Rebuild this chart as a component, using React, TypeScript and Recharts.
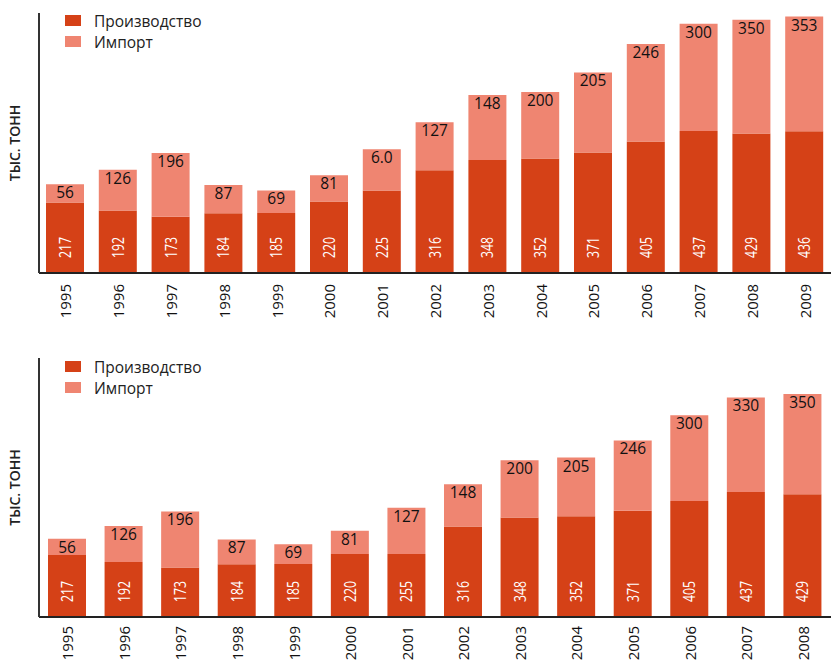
import React from "react"
import { BarChart, Bar, XAxis, YAxis, LabelList } from "recharts"

const PROD_COLOR = "#D54117"
const IMPORT_COLOR = "#EF8571"
const FONT = "'Open Sans', 'Noto Sans', sans-serif"

// top chart: 1995–2009
const yearsTop = ["1995", "1996", "1997", "1998", "1999", "2000", "2001", "2002", "2003", "2004", "2005", "2006", "2007", "2008", "2009"]
const prodTop = [217, 192, 173, 184, 185, 220, 254, 316, 348, 352, 371, 405, 437, 429, 436]
const importTop = [56, 126, 196, 87, 69, 81, 127, 148, 200, 205, 246, 300, 330, 350, 353]
const prodLabelsTop = ["217", "192", "173", "184", "185", "220", "225", "316", "348", "352", "371", "405", "437", "429", "436"]
const importLabelsTop = ["56", "126", "196", "87", "69", "81", "6.0", "127", "148", "200", "205", "246", "300", "350", "353"]

// bottom chart: 1995–2008
const yearsBottom = ["1995", "1996", "1997", "1998", "1999", "2000", "2001", "2002", "2003", "2004", "2005", "2006", "2007", "2008"]
const prodBottom = [217, 192, 173, 184, 185, 220, 220, 316, 348, 352, 371, 405, 437, 429]
const importBottom = [56, 126, 196, 87, 69, 81, 162, 148, 200, 205, 246, 300, 330, 350]
const prodLabelsBottom = ["217", "192", "173", "184", "185", "220", "255", "316", "348", "352", "371", "405", "437", "429"]
const importLabelsBottom = ["56", "126", "196", "87", "69", "81", "127", "148", "200", "205", "246", "300", "330", "350"]

const seriesNames = ["Производство", "Импорт"]

const buildRows = (years: string[], prod: number[], imp: number[], prodLabels: string[], impLabels: string[]) =>
  years.map((year, i) => ({
    year,
    prod: prod[i],
    imp: imp[i],
    prodLabel: prodLabels[i],
    impLabel: impLabels[i],
  }))

// white condensed numbers inside the dark segment, reading bottom-to-top
const ProdLabel = (props: any) => {
  const { x, y, width, height, value } = props
  const cx = x + width / 2
  const by = y + height - 15
  return (
    <text
      x={cx}
      y={by}
      transform={`rotate(-90 ${cx} ${by})`}
      fill="#fff"
      fontSize={16}
      fontFamily={FONT}
      textAnchor="start"
      dominantBaseline="central"
      textLength={String(value).length * 7}
      lengthAdjust="spacingAndGlyphs"
    >
      {value}
    </text>
  )
}

const ImportLabel = (props: any) => {
  const { x, y, width, value } = props
  return (
    <text x={x + width / 2} y={y + 14} fill="#111" fontSize={15.5} fontFamily={FONT} textAnchor="middle">
      {value}
    </text>
  )
}

const YearTick = ({ x, y, payload, dy }: any) => (
  <text
    x={x}
    y={y + dy}
    transform={`rotate(-90 ${x} ${y + dy})`}
    fill="#111"
    fontSize={15}
    fontFamily={FONT}
    textAnchor="end"
    dominantBaseline="central"
  >
    {payload.value}
  </text>
)

const AxisTitle = (props: any) => {
  const { viewBox } = props
  const cx = 14
  const cy = viewBox.y + viewBox.height / 2
  return (
    <text
      x={cx}
      y={cy}
      transform={`rotate(-90 ${cx} ${cy})`}
      fill="#222"
      fontSize={14}
      fontWeight={600}
      fontFamily={FONT}
      textAnchor="middle"
      dominantBaseline="central"
    >
      ТЫС. ТОНН
    </text>
  )
}

const LegendBox = ({ top }: { top: number }) => (
  <div style={{ position: "absolute", left: 65, top, fontFamily: FONT, fontSize: 15.5, color: "#222" }}>
    {seriesNames.map((name, i) => (
      <div key={name} style={{ display: "flex", alignItems: "center", height: 21 }}>
        <span
          style={{
            display: "inline-block",
            width: 16,
            height: 11,
            background: i === 0 ? PROD_COLOR : IMPORT_COLOR,
            marginRight: 13,
          }}
        />
        <span>{name}</span>
      </div>
    ))}
  </div>
)

type ChartProps = {
  rows: ReturnType<typeof buildRows>
  height: number
  top: number
  axisHeight: number
  yMax: number
  tickDy: number
  legendTop: number
}

function StackedChart({ rows, height, top, axisHeight, yMax, tickDy, legendTop }: ChartProps) {
  return (
    <div style={{ position: "relative", width: 831, height }}>
      <BarChart width={831} height={height} data={rows} margin={{ top, right: 0, bottom: 0, left: 0 }}>
        <XAxis
          dataKey="year"
          height={axisHeight}
          interval={0}
          tickLine={false}
          axisLine={{ stroke: "#222", strokeWidth: 2 }}
          tick={<YearTick dy={tickDy} />}
        />
        <YAxis
          width={39}
          domain={[0, yMax]}
          allowDataOverflow
          tick={false}
          tickLine={false}
          axisLine={{ stroke: "#333", strokeWidth: 2 }}
          label={{ content: <AxisTitle /> }}
        />
        <Bar dataKey="prod" name={seriesNames[0]} stackId="a" fill={PROD_COLOR} barSize={38} isAnimationActive={false}>
          <LabelList dataKey="prodLabel" content={<ProdLabel />} />
        </Bar>
        <Bar dataKey="imp" name={seriesNames[1]} stackId="a" fill={IMPORT_COLOR} barSize={38} isAnimationActive={false}>
          <LabelList dataKey="impLabel" content={<ImportLabel />} />
        </Bar>
      </BarChart>
      <LegendBox top={legendTop} />
    </div>
  )
}

export default function App() {
  const topRows = buildRows(yearsTop, prodTop, importTop, prodLabelsTop, importLabelsTop)
  const bottomRows = buildRows(yearsBottom, prodBottom, importBottom, prodLabelsBottom, importLabelsBottom)
  return (
    <div style={{ width: 831, height: 662, background: "#fff" }}>
      <style>{`body{margin:0;background:#fff}`}</style>
      <StackedChart rows={topRows} height={335} top={13} axisHeight={62} yMax={800} tickDy={3} legendTop={10} />
      <StackedChart rows={bottomRows} height={327} top={23} axisHeight={45} yMax={905} tickDy={1} legendTop={21} />
    </div>
  )
}
